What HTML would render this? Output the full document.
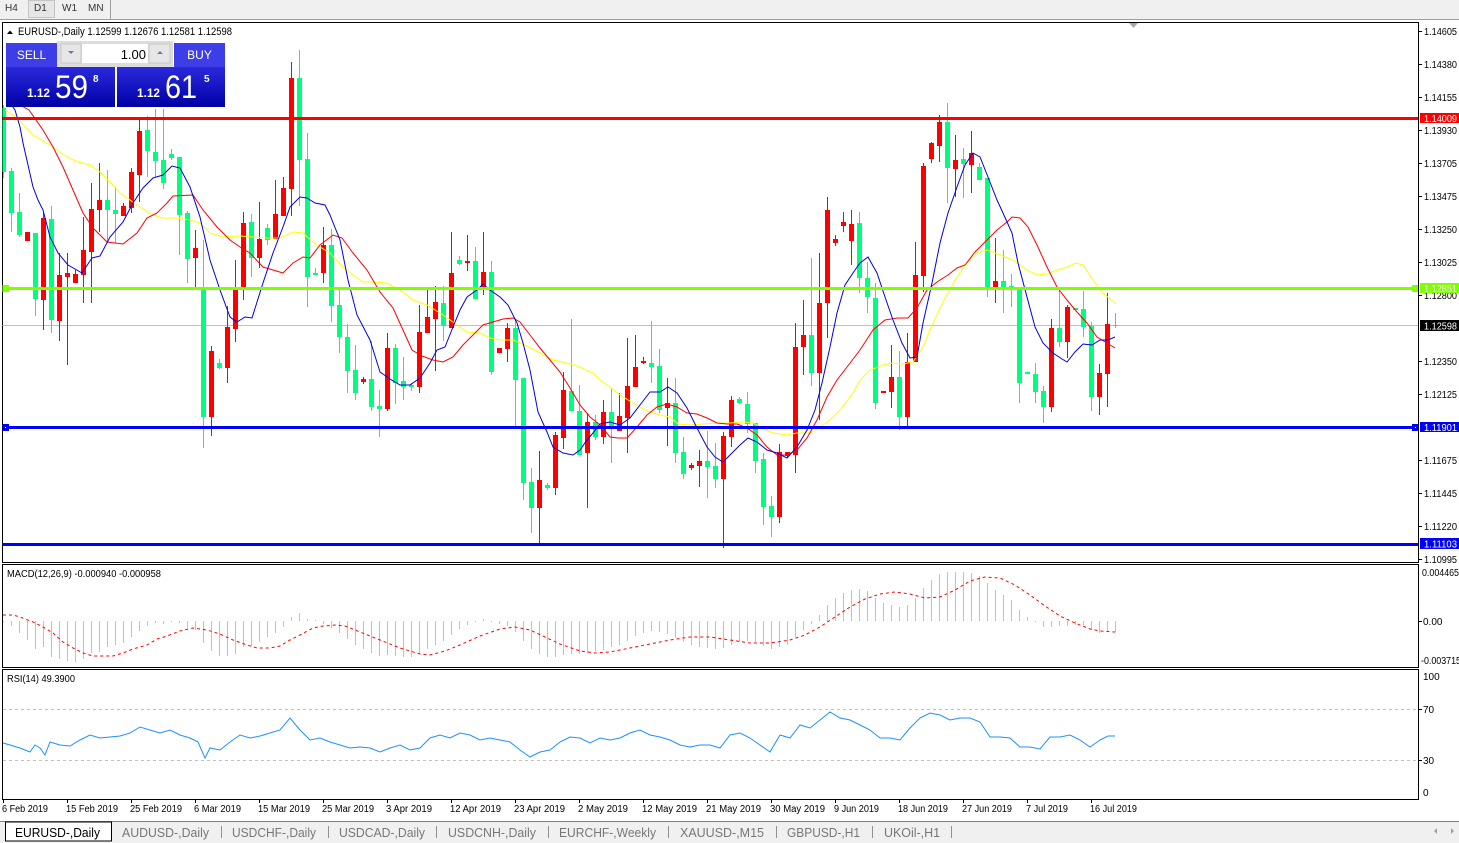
<!DOCTYPE html>
<html><head><meta charset="utf-8"><style>
html,body{margin:0;padding:0;background:#fff;}
svg{display:block;font-family:"Liberation Sans",sans-serif;}
</style></head><body>
<svg width="1459" height="843" viewBox="0 0 1459 843" xmlns="http://www.w3.org/2000/svg">
<defs>
<clipPath id="cm"><rect x="2.5" y="22.5" width="1415.5" height="539.5"/></clipPath>
<clipPath id="cmacd"><rect x="2.5" y="564.5" width="1415.5" height="102"/></clipPath>
<clipPath id="crsi"><rect x="2.5" y="669.5" width="1415.5" height="129"/></clipPath>
<linearGradient id="pg" x1="0" y1="0" x2="0" y2="1"><stop offset="0" stop-color="#2a2adc"/><stop offset="1" stop-color="#0000a6"/></linearGradient>
</defs>
<rect x="0" y="0" width="1459" height="843" fill="#fff"/>
<!-- toolbar -->
<rect x="0" y="0" width="1459" height="19" fill="#f0f0f0"/>
<line x1="0" y1="19.5" x2="1459" y2="19.5" stroke="#a0a0a0"/>
<rect x="28.5" y="0.5" width="26" height="17" fill="#e6e6e6" stroke="#c4c4c4"/>
<line x1="110.5" y1="0" x2="110.5" y2="19" stroke="#a0a0a0"/>
<g font-size="10" fill="#333">
<text x="5" y="11">H4</text><text x="34" y="11">D1</text><text x="62" y="11">W1</text><text x="88" y="11">MN</text>
</g>
<!-- panels -->
<g fill="none" stroke="#000" shape-rendering="crispEdges">
<rect x="2.5" y="22.5" width="1416" height="540"/>
<rect x="2.5" y="564.5" width="1416" height="103"/>
<rect x="2.5" y="669.5" width="1416" height="130"/>
</g>
<!-- main chart -->
<g clip-path="url(#cm)">
<line x1="2" y1="325.5" x2="1418" y2="325.5" stroke="#c0c0c0" shape-rendering="crispEdges"/>
<g shape-rendering="crispEdges">
<path fill="none" stroke="#00ff7f" d="M3.5 105V178M11.5 168V232M19.5 193V237M35.5 233V316M51.5 206V333M107.5 170V243M115.5 187V243M147.5 116V177M155.5 109V177M163.5 109V189M171.5 149V160M179.5 157V255M187.5 211V283M203.5 240V448M219.5 359V369M251.5 214V277M267.5 224V245M299.5 50V206M307.5 133V307M315.5 268V275M331.5 229V322M339.5 290V353M347.5 324V393M355.5 345V400M371.5 341V411M379.5 390V437M395.5 344V404M403.5 357V400M411.5 383V391M443.5 286V341M459.5 256V265M475.5 247V299M491.5 261V375M515.5 320V427M523.5 378V500M531.5 468V533M547.5 483V490M571.5 319V411M579.5 385V455M595.5 415V440M611.5 388V463M651.5 321V383M659.5 349V413M675.5 378V463M683.5 437V479M707.5 431V498M715.5 443V488M739.5 397V404M747.5 392V433M755.5 423V473M763.5 453V525M771.5 496V537M811.5 258V386M859.5 212V293M867.5 262V313M875.5 283V409M899.5 351V430M947.5 103V203M963.5 148V198M979.5 163V180M987.5 178V297M1003.5 250V313M1011.5 274V307M1019.5 289V403M1027.5 372V374M1035.5 363V403M1043.5 386V423M1059.5 288V347M1075.5 308V310M1083.5 291V337M1091.5 322V411M1115.5 313V328"/>
<path fill="#00ff7f" d="M1 108h5v64h-5zM9 171h5v42h-5zM17 212h5v23h-5zM33 233h5v66h-5zM49 219h5v101h-5zM105 200h5v10h-5zM113 210h5v4h-5zM145 130h5v21h-5zM153 152h5v9h-5zM161 160h5v23h-5zM169 154h5v4h-5zM177 157h5v58h-5zM185 213h5v46h-5zM201 288h5v129h-5zM217 363h5v5h-5zM249 222h5v36h-5zM265 228h5v12h-5zM297 78h5v82h-5zM305 159h5v118h-5zM313 273h5v2h-5zM329 245h5v61h-5zM337 305h5v32h-5zM345 337h5v34h-5zM353 370h5v23h-5zM369 379h5v28h-5zM377 406h5v3h-5zM393 348h5v35h-5zM401 381h5v6h-5zM409 385h5v2h-5zM441 303h5v23h-5zM457 260h5v4h-5zM473 261h5v38h-5zM489 272h5v100h-5zM513 328h5v52h-5zM521 378h5v105h-5zM529 482h5v26h-5zM545 485h5v3h-5zM569 391h5v20h-5zM577 411h5v44h-5zM593 422h5v15h-5zM609 412h5v17h-5zM649 363h5v4h-5zM657 366h5v44h-5zM673 403h5v50h-5zM681 452h5v22h-5zM705 461h5v6h-5zM713 466h5v13h-5zM737 399h5v4h-5zM745 404h5v20h-5zM753 423h5v38h-5zM761 459h5v48h-5zM769 506h5v11h-5zM809 335h5v38h-5zM857 223h5v55h-5zM865 278h5v19h-5zM873 298h5v105h-5zM897 377h5v40h-5zM945 122h5v46h-5zM961 159h5v5h-5zM977 167h5v13h-5zM985 178h5v109h-5zM1001 281h5v6h-5zM1009 286h5v2h-5zM1017 289h5v94h-5zM1025 372h5v2h-5zM1033 374h5v18h-5zM1041 391h5v16h-5zM1057 328h5v14h-5zM1073 308h5v2h-5zM1081 309h5v18h-5zM1089 326h5v71h-5zM1113 325h5v1h-5z"/>
<path fill="none" stroke="#ff0000" d="M27.5 232V241M43.5 212V330M59.5 253V341M67.5 253V365M75.5 270V283M83.5 217V303M91.5 183V303M99.5 163V232M123.5 203V216M131.5 168V213M139.5 120V202M195.5 230V287M211.5 346V436M227.5 306V383M235.5 260V342M243.5 212V300M259.5 202V268M275.5 180V239M283.5 177V216M291.5 62V216M323.5 227V283M363.5 377V384M387.5 333V411M419.5 305V393M427.5 289V333M435.5 286V371M451.5 232V328M467.5 235V271M483.5 232V295M499.5 348V353M507.5 323V362M539.5 451V543M555.5 432V495M563.5 372V449M587.5 413V508M603.5 400V444M619.5 393V431M627.5 338V453M635.5 335V387M643.5 357V364M667.5 378V446M691.5 463V470M699.5 450V487M723.5 432V548M731.5 396V447M779.5 444V523M787.5 452V458M795.5 323V473M803.5 300V375M819.5 253V420M827.5 197V338M835.5 235V246M843.5 212V232M851.5 210V265M883.5 391V393M891.5 345V408M907.5 333V429M915.5 242V362M923.5 163V292M931.5 142V163M939.5 115V162M955.5 135V197M971.5 131V193M995.5 238V303M1051.5 319V412M1067.5 305V358M1099.5 364V415M1107.5 293V407"/>
<path fill="#ff0000" d="M25 232h5v9h-5zM41 218h5v82h-5zM57 275h5v46h-5zM65 273h5v4h-5zM73 274h5v9h-5zM81 250h5v25h-5zM89 209h5v43h-5zM97 200h5v10h-5zM121 206h5v10h-5zM129 172h5v36h-5zM137 131h5v44h-5zM193 248h5v10h-5zM209 351h5v66h-5zM225 327h5v41h-5zM233 290h5v39h-5zM241 223h5v64h-5zM257 239h5v19h-5zM273 214h5v25h-5zM281 188h5v28h-5zM289 78h5v111h-5zM321 245h5v28h-5zM361 379h5v3h-5zM385 348h5v61h-5zM417 332h5v55h-5zM425 317h5v16h-5zM433 302h5v17h-5zM449 273h5v55h-5zM465 261h5v2h-5zM481 272h5v16h-5zM497 348h5v5h-5zM505 328h5v21h-5zM537 480h5v28h-5zM553 435h5v53h-5zM561 390h5v48h-5zM585 422h5v31h-5zM601 412h5v25h-5zM617 416h5v15h-5zM625 386h5v32h-5zM633 367h5v20h-5zM641 361h5v2h-5zM665 403h5v5h-5zM689 465h5v3h-5zM697 461h5v5h-5zM721 436h5v43h-5zM729 400h5v37h-5zM777 452h5v65h-5zM785 452h5v4h-5zM793 347h5v108h-5zM801 335h5v12h-5zM817 303h5v70h-5zM825 210h5v93h-5zM833 239h5v4h-5zM841 222h5v4h-5zM849 224h5v17h-5zM881 391h5v2h-5zM889 377h5v15h-5zM905 362h5v55h-5zM913 275h5v87h-5zM921 166h5v110h-5zM929 143h5v16h-5zM937 122h5v24h-5zM953 160h5v9h-5zM969 153h5v12h-5zM993 281h5v6h-5zM1049 328h5v79h-5zM1065 307h5v35h-5zM1097 373h5v24h-5zM1105 324h5v50h-5z"/>
</g>
<!-- moving averages -->
<polyline fill="none" stroke="#ffff00" stroke-width="1" points="5,110 17,118 33,135 50,145 67,157 78,162 90,165 100,172 110,182 120,193 130,200 140,207 153,215 163,218 177,218 190,220 200,223 210,233 223,237 240,236 253,237 267,238 280,238 293,232 303,233 313,242 320,247 330,253 343,267 353,275 363,282 373,282 387,283 400,290 413,300 427,305 440,313 453,322 467,332 480,333 490,338 500,340 513,340 527,346 540,353 553,360 567,363 580,367 593,373 600,380 610,387 620,395 633,403 647,411 660,415 670,417 678,424 690,425 703,424 717,423 730,423 743,422 753,423 763,428 773,433 787,435 797,433 810,433 820,427 830,420 840,410 853,393 860,380 870,370 883,365 893,363 903,364 913,362 923,347 933,323 945,298 957,277 967,263 977,253 987,250 1000,255 1013,260 1027,270 1037,275 1047,274 1057,270 1067,267 1076,263 1083,265 1093,280 1103,293 1115,303"/>
<polyline fill="none" stroke="#ff0000" stroke-width="1" points="8,93 20,105 29,110 43,130 53,147 63,167 73,190 83,213 93,228 107,242 123,244 137,233 147,218 157,213 167,203 173,196 193,195 203,210 217,227 230,240 240,247 250,253 263,267 273,270 283,273 293,263 303,257 310,258 320,245 333,235 342,238 353,253 367,270 380,292 393,308 403,330 412,350 422,356 433,360 443,362 453,357 463,345 473,335 483,325 493,322 503,319 513,318 520,322 530,335 540,348 550,360 560,372 570,388 580,405 590,417 600,425 610,437 618,438 627,438 637,427 647,415 657,407 667,404 677,407 687,413 697,414 707,418 717,423 727,424 737,424 747,428 757,435 767,447 777,455 787,455 797,450 807,438 817,420 827,397 837,380 847,367 860,350 873,330 885,320 897,318 908,318 917,308 927,290 937,282 948,275 957,268 965,265 975,252 987,240 997,230 1007,222 1012,217 1020,218 1028,227 1037,245 1047,267 1057,287 1067,300 1077,312 1087,323 1097,337 1107,343 1115,348"/>
<polyline fill="none" stroke="#0000e0" stroke-width="1" points="8,100 15,110 20,127 23,143 28,165 33,187 38,200 43,210 50,237 58,253 68,265 82,273 92,258 100,256 110,237 123,222 133,203 143,188 153,178 163,175 172,166 180,168 190,187 200,217 210,260 220,290 230,317 237,322 245,317 252,318 263,283 273,253 283,227 290,207 300,197 307,198 315,203 325,205 330,215 332,220 340,240 348,280 357,315 370,340 380,372 390,379 400,385 410,385 420,378 430,363 437,350 445,347 453,327 460,310 467,297 477,290 483,284 490,290 500,297 508,305 517,323 523,343 530,370 538,412 547,432 553,447 563,453 573,455 580,450 587,440 593,433 600,424 610,422 620,425 630,418 640,405 650,392 660,392 668,387 677,393 687,408 697,428 707,447 715,457 723,462 730,455 740,445 748,438 757,442 767,450 777,453 787,458 797,447 807,430 815,410 822,383 830,347 837,313 845,285 855,270 860,263 868,257 877,273 885,297 893,320 902,343 910,358 917,357 923,323 932,283 940,243 948,213 957,187 965,165 973,153 980,157 988,177 997,200 1003,213 1012,233 1018,263 1027,297 1035,327 1043,343 1053,353 1062,359 1067,362 1075,352 1083,344 1092,345 1100,340 1108,340 1115,337"/>
<!-- horizontal lines -->
<g shape-rendering="crispEdges">
<rect x="2" y="117" width="1416" height="3" fill="#ff0000"/>
<rect x="2" y="287" width="1416" height="3" fill="#7fff00"/>
<rect x="2" y="426" width="1416" height="3" fill="#0000ff"/>
<rect x="2" y="543" width="1416" height="3" fill="#0000ff"/>
<rect x="2" y="285" width="7" height="7" fill="#7fff00"/><rect x="5" y="288" width="1" height="1" fill="#fff"/>
<rect x="1412" y="285" width="7" height="7" fill="#7fff00"/><rect x="1415" y="288" width="1" height="1" fill="#fff"/>
<rect x="2" y="424" width="7" height="7" fill="#0000ff"/><rect x="5" y="427" width="1" height="1" fill="#fff"/>
<rect x="1412" y="424" width="7" height="7" fill="#0000ff"/><rect x="1415" y="427" width="1" height="1" fill="#fff"/>
</g>
</g>
<polygon points="1129,23 1138,23 1133.5,28" fill="#a8a8a8"/>
<!-- header -->
<polygon points="7,34 10,30.5 13,34" fill="#000"/>
<text x="18" y="35" font-size="11" fill="#000" textLength="214" lengthAdjust="spacingAndGlyphs">EURUSD-,Daily  1.12599 1.12676 1.12581 1.12598</text>
<!-- trade panel -->
<rect x="6" y="43" width="51" height="24" fill="#3e3ee8"/>
<text x="31.5" y="59" text-anchor="middle" fill="#fff" font-size="12">SELL</text>
<rect x="57" y="41" width="116" height="26" fill="#dcdcdc"/>
<rect x="61" y="44" width="20" height="19" fill="#e6e6e6" stroke="#c8c8c8"/>
<polygon points="68,51 74,51 71,54" fill="#6a78a8"/>
<rect x="82" y="44" width="66" height="19" fill="#fff"/>
<text x="146" y="59" text-anchor="end" font-size="13" fill="#000">1.00</text>
<rect x="149" y="44" width="21" height="19" fill="#e6e6e6" stroke="#c8c8c8"/>
<polygon points="157,54 163,54 160,51" fill="#6a78a8"/>
<rect x="174" y="43" width="51" height="24" fill="#3e3ee8"/>
<text x="199.5" y="59" text-anchor="middle" fill="#fff" font-size="12">BUY</text>
<rect x="6" y="67" width="109" height="40" fill="url(#pg)"/>
<rect x="117" y="67" width="108" height="40" fill="url(#pg)"/>
<g fill="#fff">
<text x="27" y="97" font-size="12" font-weight="bold" textLength="23" lengthAdjust="spacingAndGlyphs">1.12</text>
<text x="55" y="98" font-size="32" textLength="33" lengthAdjust="spacingAndGlyphs">59</text>
<text x="93" y="82" font-size="10" font-weight="bold">8</text>
<text x="137" y="97" font-size="12" font-weight="bold" textLength="23" lengthAdjust="spacingAndGlyphs">1.12</text>
<text x="165" y="98" font-size="32" textLength="32" lengthAdjust="spacingAndGlyphs">61</text>
<text x="204" y="82" font-size="10" font-weight="bold">5</text>
</g>
<!-- price axis -->
<g stroke="#000" shape-rendering="crispEdges">
<path d="M1418 31.5h4M1418 64.5h4M1418 97.5h4M1418 130.5h4M1418 163.5h4M1418 196.5h4M1418 229.5h4M1418 262.5h4M1418 295.5h4M1418 361.5h4M1418 394.5h4M1418 460.5h4M1418 493.5h4M1418 526.5h4M1418 559.5h4M1418 621.5h4M1418 709.5h4M1418 760.5h4"/>
</g>
<g font-size="10" fill="#000">
<text x="1424" y="35" textLength="33" lengthAdjust="spacingAndGlyphs">1.14605</text>
<text x="1424" y="68" textLength="33" lengthAdjust="spacingAndGlyphs">1.14380</text>
<text x="1424" y="101" textLength="33" lengthAdjust="spacingAndGlyphs">1.14155</text>
<text x="1424" y="134" textLength="33" lengthAdjust="spacingAndGlyphs">1.13930</text>
<text x="1424" y="167" textLength="33" lengthAdjust="spacingAndGlyphs">1.13705</text>
<text x="1424" y="200" textLength="33" lengthAdjust="spacingAndGlyphs">1.13475</text>
<text x="1424" y="233" textLength="33" lengthAdjust="spacingAndGlyphs">1.13250</text>
<text x="1424" y="266" textLength="33" lengthAdjust="spacingAndGlyphs">1.13025</text>
<text x="1424" y="299" textLength="33" lengthAdjust="spacingAndGlyphs">1.12800</text>
<text x="1424" y="365" textLength="33" lengthAdjust="spacingAndGlyphs">1.12350</text>
<text x="1424" y="398" textLength="33" lengthAdjust="spacingAndGlyphs">1.12125</text>
<text x="1424" y="464" textLength="33" lengthAdjust="spacingAndGlyphs">1.11675</text>
<text x="1424" y="497" textLength="33" lengthAdjust="spacingAndGlyphs">1.11445</text>
<text x="1424" y="530" textLength="33" lengthAdjust="spacingAndGlyphs">1.11220</text>
<text x="1424" y="563" textLength="33" lengthAdjust="spacingAndGlyphs">1.10995</text>
</g>
<g shape-rendering="crispEdges">
<rect x="1420" y="113" width="39" height="10" fill="#ff0000"/>
<rect x="1420" y="283" width="39" height="10" fill="#7fff00"/>
<rect x="1420" y="320" width="39" height="11" fill="#000"/>
<rect x="1420" y="422" width="39" height="10" fill="#0000ff"/>
<rect x="1420" y="538" width="39" height="11" fill="#0000ff"/>
</g>
<g font-size="10" fill="#fff">
<text x="1424" y="122" textLength="33" lengthAdjust="spacingAndGlyphs">1.14009</text>
<text x="1424" y="292" textLength="33" lengthAdjust="spacingAndGlyphs">1.12851</text>
<text x="1424" y="329.5" textLength="33" lengthAdjust="spacingAndGlyphs">1.12598</text>
<text x="1424" y="431" textLength="33" lengthAdjust="spacingAndGlyphs">1.11901</text>
<text x="1424" y="547.5" textLength="33" lengthAdjust="spacingAndGlyphs">1.11103</text>
</g>
<!-- MACD -->
<g clip-path="url(#cmacd)">
<path fill="none" stroke="#c0c0c0" shape-rendering="crispEdges" d="M3.5 621V622M11.5 621V626M19.5 621V633M27.5 621V640M35.5 621V649M43.5 621V647M51.5 621V657M59.5 621V659M67.5 621V661M75.5 621V662M83.5 621V659M91.5 621V653M99.5 621V652M107.5 621V647M115.5 621V645M123.5 621V643M131.5 621V637M139.5 621V631M147.5 621V626M155.5 621V623M163.5 621V624M171.5 621V622M179.5 621V623M187.5 621V628M195.5 621V630M203.5 621V643M211.5 621V651M219.5 621V656M227.5 621V656M235.5 621V654M243.5 621V647M251.5 621V646M259.5 621V642M267.5 621V637M275.5 621V633M283.5 621V627M291.5 621V617M299.5 621V613M307.5 621V619M315.5 621V620M323.5 621V624M331.5 621V628M339.5 621V633M347.5 621V639M355.5 621V645M363.5 621V649M371.5 621V653M379.5 621V656M387.5 621V655M395.5 621V656M403.5 621V657M411.5 621V657M419.5 621V654M427.5 621V649M435.5 621V645M443.5 621V641M451.5 621V635M459.5 621V629M467.5 621V625M475.5 621V622M483.5 621V619M491.5 621V622M499.5 621V624M507.5 621V626M515.5 621V632M523.5 621V641M531.5 621V649M539.5 621V654M547.5 621V657M555.5 621V657M563.5 621V655M571.5 621V654M579.5 621V654M587.5 621V653M595.5 621V651M603.5 621V650M611.5 621V647M619.5 621V645M627.5 621V641M635.5 621V636M643.5 621V633M651.5 621V631M659.5 621V632M667.5 621V634M675.5 621V638M683.5 621V642M691.5 621V645M699.5 621V647M707.5 621V648M715.5 621V649M723.5 621V648M731.5 621V645M739.5 621V642M747.5 621V641M755.5 621V642M763.5 621V646M771.5 621V649M779.5 621V647M787.5 621V645M795.5 621V637M803.5 621V630M811.5 621V624M819.5 621V615M827.5 621V605M835.5 621V598M843.5 621V593M851.5 621V590M859.5 621V589M867.5 621V591M875.5 621V598M883.5 621V603M891.5 621V605M899.5 621V607M907.5 621V605M915.5 621V598M923.5 621V588M931.5 621V580M939.5 621V574M947.5 621V572M955.5 621V572M963.5 621V572M971.5 621V573M979.5 621V576M987.5 621V583M995.5 621V590M1003.5 621V595M1011.5 621V600M1019.5 621V610M1027.5 621V617M1035.5 621V622M1043.5 621V627M1051.5 621V627M1059.5 621V626M1067.5 621V626M1075.5 621V625M1083.5 621V625M1091.5 621V630M1099.5 621V633M1107.5 621V632M1115.5 621V632"/>
<polyline fill="none" stroke="#ff0000" stroke-dasharray="3,3" points="3,615 13,615 20,617 33,622 43,627 53,633 63,642 73,648 83,653 93,656 113,656 123,653 133,649 147,645 157,639 167,636 180,631 193,628 207,630 220,634 233,640 247,645 257,648 270,648 280,646 290,640 300,635 313,628 323,626 335,625 345,626 360,632 380,640 400,648 420,654 430,655 445,651 460,645 480,636 500,629 515,627 530,630 545,637 560,644 580,651 595,653 610,652 630,648 650,644 670,640 690,637 710,637 730,640 750,643 770,643 790,640 805,635 820,627 835,617 850,607 865,599 880,594 895,592 910,594 925,598 940,597 955,590 970,581 985,577 1000,578 1015,585 1030,595 1045,606 1060,616 1075,623 1090,629 1100,631 1115,632"/>
</g>
<text x="7" y="577" font-size="10" fill="#000" textLength="154" lengthAdjust="spacingAndGlyphs">MACD(12,26,9) -0.000940 -0.000958</text>
<g font-size="10" fill="#000">
<text x="1422" y="576" textLength="37" lengthAdjust="spacingAndGlyphs">0.004465</text>
<text x="1423" y="625">0.00</text>
<text x="1421" y="664" textLength="40" lengthAdjust="spacingAndGlyphs">-0.003715</text>
</g>
<!-- RSI -->
<g clip-path="url(#crsi)">
<g stroke="#c0c0c0" stroke-dasharray="3,3" shape-rendering="crispEdges">
<line x1="3" y1="709.5" x2="1418" y2="709.5"/>
<line x1="3" y1="760.5" x2="1418" y2="760.5"/>
</g>
<polyline fill="none" stroke="#1e90ff" stroke-width="1" points="3,743 10,745 20,748 30,752 35,745 40,748 45,755 50,742 60,745 70,746 80,740 90,735 100,738 110,737 120,736 130,733 140,727 150,730 160,733 170,730 180,735 190,738 198,742 205,758 210,748 220,750 230,742 240,735 250,738 260,736 270,733 280,730 290,718 300,730 310,740 320,738 330,742 340,745 350,748 360,747 370,748 380,752 390,748 400,745 410,750 420,748 430,738 440,735 450,738 460,733 470,735 480,740 490,738 500,740 510,742 520,750 530,757 540,752 550,750 560,742 570,737 580,738 590,743 600,738 610,740 620,738 630,733 640,730 650,735 660,737 670,740 680,745 690,747 700,745 710,745 720,748 730,735 740,733 750,738 760,745 770,752 780,735 790,738 800,725 810,728 820,720 830,712 840,718 850,720 860,725 870,730 880,738 890,738 900,740 910,728 920,718 930,713 940,715 950,720 960,718 970,718 980,722 990,737 1000,737 1010,738 1020,747 1030,747 1040,749 1050,737 1060,737 1070,735 1080,740 1090,747 1100,740 1108,736 1115,736"/>
</g>
<text x="7" y="682" font-size="10" fill="#000" textLength="68" lengthAdjust="spacingAndGlyphs">RSI(14) 49.3900</text>
<g font-size="10" fill="#000">
<text x="1423" y="680">100</text>
<text x="1423" y="713">70</text>
<text x="1423" y="764">30</text>
<text x="1423" y="796">0</text>
</g>
<!-- date axis -->
<path stroke="#000" shape-rendering="crispEdges" d="M3.5 799v4M67.5 799v4M131.5 799v4M195.5 799v4M259.5 799v4M323.5 799v4M387.5 799v4M451.5 799v4M515.5 799v4M579.5 799v4M643.5 799v4M707.5 799v4M771.5 799v4M835.5 799v4M899.5 799v4M963.5 799v4M1027.5 799v4M1091.5 799v4"/>
<g font-size="10" fill="#000">
<text x="2" y="812" textLength="46" lengthAdjust="spacingAndGlyphs">6 Feb 2019</text>
<text x="66" y="812" textLength="52" lengthAdjust="spacingAndGlyphs">15 Feb 2019</text>
<text x="130" y="812" textLength="52" lengthAdjust="spacingAndGlyphs">25 Feb 2019</text>
<text x="194" y="812" textLength="47" lengthAdjust="spacingAndGlyphs">6 Mar 2019</text>
<text x="258" y="812" textLength="52" lengthAdjust="spacingAndGlyphs">15 Mar 2019</text>
<text x="322" y="812" textLength="52" lengthAdjust="spacingAndGlyphs">25 Mar 2019</text>
<text x="386" y="812" textLength="46" lengthAdjust="spacingAndGlyphs">3 Apr 2019</text>
<text x="450" y="812" textLength="51" lengthAdjust="spacingAndGlyphs">12 Apr 2019</text>
<text x="514" y="812" textLength="51" lengthAdjust="spacingAndGlyphs">23 Apr 2019</text>
<text x="578" y="812" textLength="50" lengthAdjust="spacingAndGlyphs">2 May 2019</text>
<text x="642" y="812" textLength="55" lengthAdjust="spacingAndGlyphs">12 May 2019</text>
<text x="706" y="812" textLength="55" lengthAdjust="spacingAndGlyphs">21 May 2019</text>
<text x="770" y="812" textLength="55" lengthAdjust="spacingAndGlyphs">30 May 2019</text>
<text x="834" y="812" textLength="45" lengthAdjust="spacingAndGlyphs">9 Jun 2019</text>
<text x="898" y="812" textLength="50" lengthAdjust="spacingAndGlyphs">18 Jun 2019</text>
<text x="962" y="812" textLength="50" lengthAdjust="spacingAndGlyphs">27 Jun 2019</text>
<text x="1026" y="812" textLength="42" lengthAdjust="spacingAndGlyphs">7 Jul 2019</text>
<text x="1090" y="812" textLength="47" lengthAdjust="spacingAndGlyphs">16 Jul 2019</text>
</g>
<!-- tabs -->
<rect x="0" y="821" width="1459" height="22" fill="#f0f0f0"/>
<line x1="0" y1="821.5" x2="1459" y2="821.5" stroke="#808080"/>
<rect x="5.5" y="822" width="106" height="19" fill="#fff" stroke="#000"/>
<text x="15" y="837" font-size="13" fill="#000" textLength="85" lengthAdjust="spacingAndGlyphs">EURUSD-,Daily</text>
<g font-size="13" fill="#777">
<text x="122" y="837" textLength="87" lengthAdjust="spacingAndGlyphs">AUDUSD-,Daily</text>
<text x="232" y="837" textLength="84" lengthAdjust="spacingAndGlyphs">USDCHF-,Daily</text>
<text x="339" y="837" textLength="86" lengthAdjust="spacingAndGlyphs">USDCAD-,Daily</text>
<text x="448" y="837" textLength="88" lengthAdjust="spacingAndGlyphs">USDCNH-,Daily</text>
<text x="559" y="837" textLength="97" lengthAdjust="spacingAndGlyphs">EURCHF-,Weekly</text>
<text x="680" y="837" textLength="84" lengthAdjust="spacingAndGlyphs">XAUUSD-,M15</text>
<text x="787" y="837" textLength="73" lengthAdjust="spacingAndGlyphs">GBPUSD-,H1</text>
<text x="884" y="837" textLength="56" lengthAdjust="spacingAndGlyphs">UKOil-,H1</text>
</g>
<path stroke="#909090" shape-rendering="crispEdges" d="M221.5 826v12M328.5 826v12M436.5 826v12M548.5 826v12M668.5 826v12M776.5 826v12M872.5 826v12M951.5 826v12"/>
<polygon points="1437,828 1437,834 1434,831" fill="#a0a0a0"/>
<polygon points="1451,828 1451,834 1454,831" fill="#a0a0a0"/>
</svg>
</body></html>
